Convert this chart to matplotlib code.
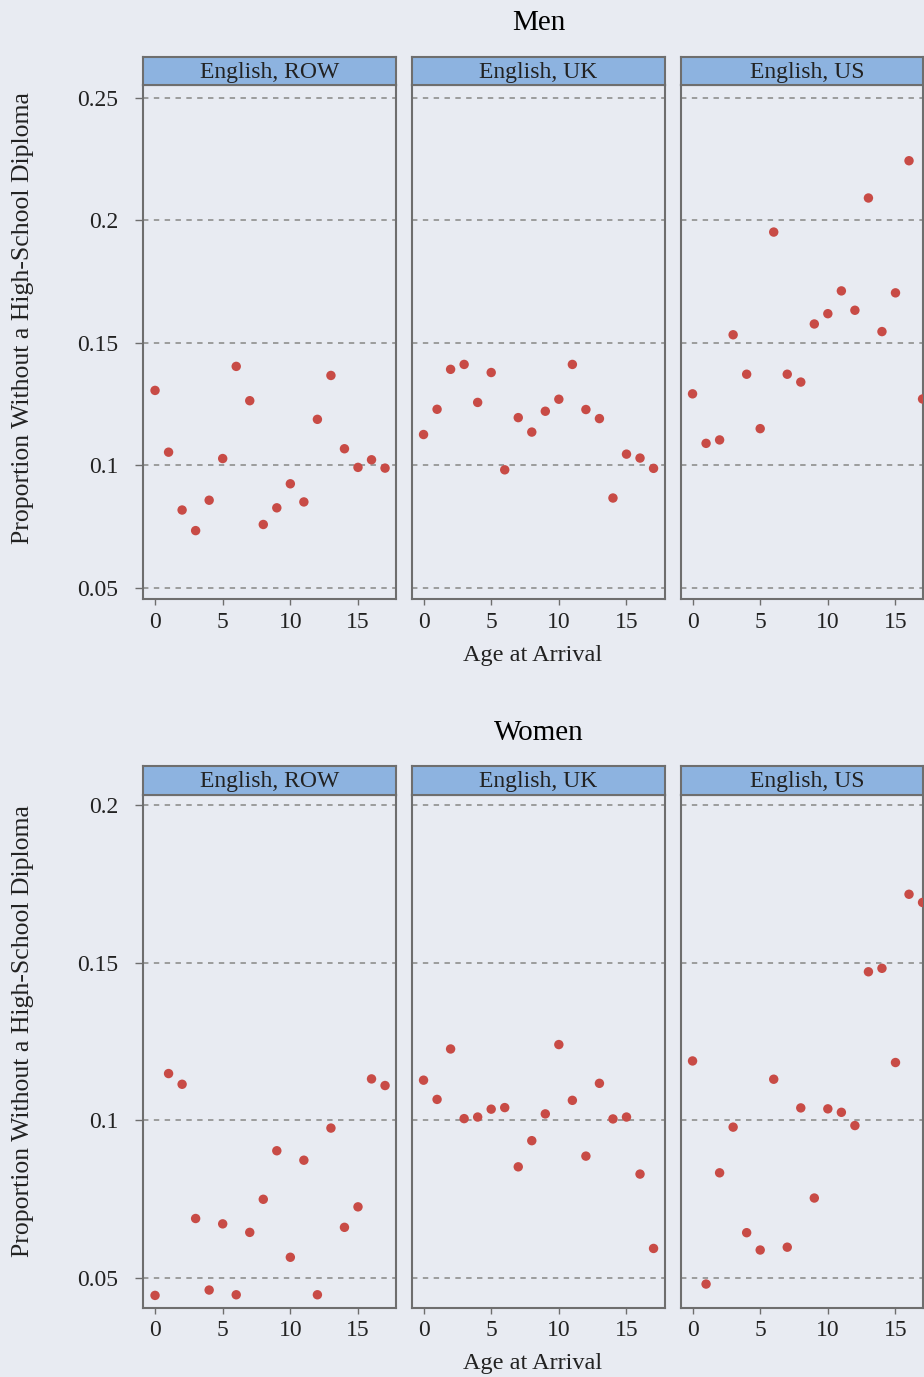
import matplotlib.pyplot as plt
import numpy as np

# ages 0..17
ages = list(range(18))
panels = ['English, ROW', 'English, UK', 'English, US']

men_row = [0.1306, 0.1054, 0.0818, 0.0734, 0.0858, 0.1028, 0.1404, 0.1264, 0.0759,
           0.0827, 0.0925, 0.0851, 0.1188, 0.1367, 0.1068, 0.0992, 0.1023, 0.0989]
men_uk = [0.1126, 0.1229, 0.1392, 0.1412, 0.1257, 0.1379, 0.0982, 0.1195, 0.1136,
          0.1221, 0.1270, 0.1412, 0.1228, 0.1191, 0.0867, 0.1046, 0.1030, 0.0988]
men_us = [0.1292, 0.1090, 0.1104, 0.1533, 0.1372, 0.1150, 0.1952, 0.1372, 0.1340,
          0.1577, 0.1619, 0.1712, 0.1633, 0.2091, 0.1546, 0.1704, 0.2243, 0.1271]

women_row = [0.0444, 0.1148, 0.1114, 0.0688, 0.0461, 0.0671, 0.0446, 0.0644, 0.0749,
             0.0903, 0.0565, 0.0873, 0.0446, 0.0975, 0.0660, 0.0725, 0.1131, 0.1110]
women_uk = [0.1127, 0.1066, 0.1226, 0.1005, 0.1010, 0.1035, 0.1040, 0.0852, 0.0935,
            0.1020, 0.1240, 0.1063, 0.0886, 0.1117, 0.1004, 0.1010, 0.0829, 0.0593]
women_us = [0.1188, 0.0480, 0.0833, 0.0978, 0.0643, 0.0588, 0.1130, 0.0597, 0.1039,
            0.0753, 0.1036, 0.1025, 0.0983, 0.1471, 0.1482, 0.1183, 0.1717, 0.1691]

men_yticks = [0.05, 0.1, 0.15, 0.2, 0.25]
men_ylabels = ['0.05', '0.1', '0.15', '0.2', '0.25']
women_yticks = [0.05, 0.1, 0.15, 0.2]
women_ylabels = ['0.05', '0.1', '0.15', '0.2']
xticks = [0, 5, 10, 15]

BG = '#e8ebf2'
STRIP = '#8db3e0'
EDGE = '#6e6e6e'
DOT = '#c84b46'
GRID = '#969696'
TXT = '#222222'

plt.rcParams['font.family'] = ['Liberation Serif', 'DejaVu Serif']

W, H = 924, 1377
fig = plt.figure(figsize=(W / 100, H / 100), dpi=100, facecolor=BG)


def box(l, t, r, b):
    return [l / W, 1 - b / H, (r - l) / W, (b - t) / H]


lefts = [143, 411.5, 680.5]
pw = 253
xmin = -0.89
xscale = 13.53  # px per year


def draw_group(series, title, top, strip_h, bottom, ylim, yticks, ylabels,
               title_y, xlab_y, ylab_y):
    for i, (name, vals) in enumerate(zip(panels, series)):
        l = lefts[i]
        r = min(l + pw, 922.5)
        ax = fig.add_axes(box(l, top + strip_h, r, bottom))
        ax.set_facecolor(BG)
        for yt in yticks:
            ax.axhline(yt, color=GRID, lw=1.3, ls=(0, (3, 3)), zorder=1)
        ax.scatter(ages, vals, s=46, color=DOT, edgecolor='none', zorder=3)
        ax.set_xlim(xmin, xmin + (r - l) / xscale)
        ax.set_ylim(*ylim)
        ax.set_xticks(xticks)
        ax.set_xticklabels([str(t) for t in xticks])
        ax.set_yticks(yticks)
        for sp in ax.spines.values():
            sp.set_color(EDGE)
            sp.set_linewidth(1.5)
        ax.tick_params(axis='x', direction='out', length=4, width=1, color=EDGE,
                       labelsize=17, labelcolor=TXT, pad=5)
        if i == 0:
            ax.set_yticklabels(ylabels)
            ax.tick_params(axis='y', direction='out', length=6, width=1, color=EDGE,
                           labelsize=17, labelcolor=TXT, pad=12)
        else:
            ax.tick_params(axis='y', length=0, labelleft=False)

        # strip header
        sax = fig.add_axes(box(l, top, r, top + strip_h))
        sax.set_facecolor(STRIP)
        sax.set_xticks([])
        sax.set_yticks([])
        for sp in sax.spines.values():
            sp.set_color(EDGE)
            sp.set_linewidth(1.5)
        sax.text((pw / 2) / (r - l), 0.45, name, transform=sax.transAxes,
                 ha='center', va='center', fontsize=17, color=TXT)

    fig.text(538.5 / W, 1 - title_y / H, title, ha='center', va='center',
             fontsize=21, color='black')
    fig.text(533 / W, 1 - xlab_y / H, 'Age at Arrival', ha='center', va='center',
             fontsize=17.5, color=TXT)
    fig.text(23 / W, 1 - ylab_y / H, 'Proportion Without a High-School Diploma',
             ha='center', va='center', rotation=90, fontsize=18.5, color=TXT)


draw_group([men_row, men_uk, men_us], 'Men', 57, 28, 599, (0.0455, 0.2552),
           men_yticks, men_ylabels, 23, 655, 318)
draw_group([women_row, women_uk, women_us], 'Women', 766, 29, 1308, (0.0404, 0.2032),
           women_yticks, women_ylabels, 733, 1363, 1031)

fig.savefig('out.png', dpi=100, facecolor=BG)
